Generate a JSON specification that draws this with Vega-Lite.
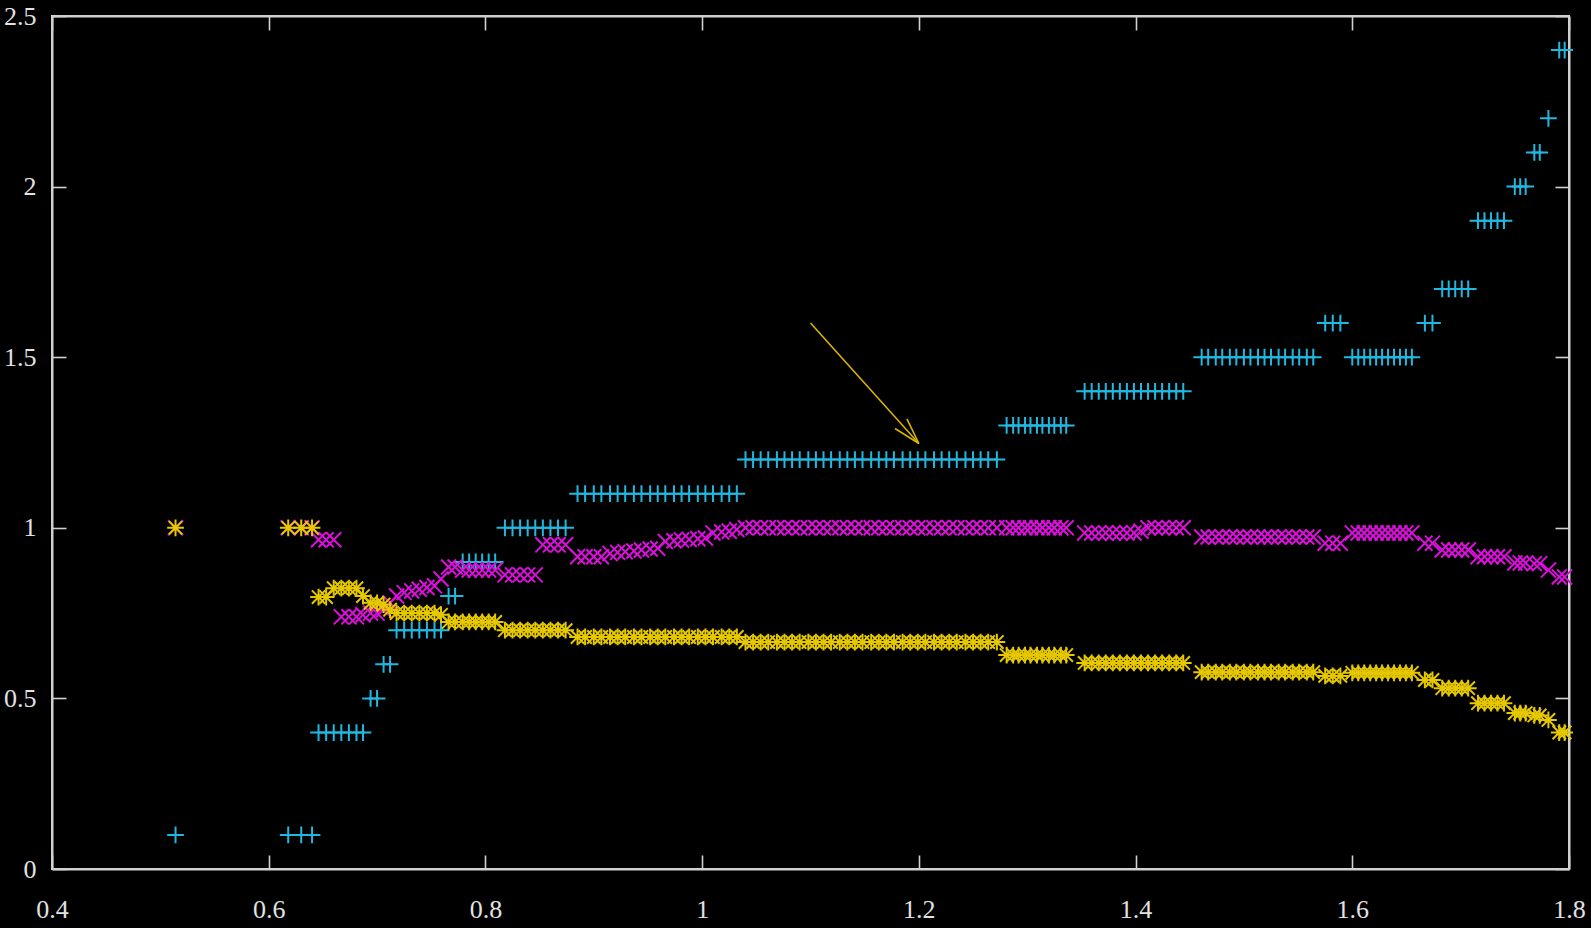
{
  "$schema": "https://vega.github.io/schema/vega-lite/v6.json",
  "width": 1517,
  "height": 853,
  "autosize": {"type": "none"},
  "padding": {"left": 52, "top": 16, "right": 22, "bottom": 59},
  "background": "#000000",
  "config": {
    "view": {"stroke": "#d0d0d0", "strokeWidth": 2},
    "axis": {
      "domainColor": "#d0d0d0",
      "domainWidth": 2,
      "tickColor": "#d0d0d0",
      "tickWidth": 1.6,
      "tickSize": -14,
      "labelFont": "Liberation Serif",
      "labelFontSize": 26,
      "labelColor": "#e2e2e2",
      "labelFlush": false,
      "labelOverlap": false,
      "grid": false
    }
  },
  "datasets": {
    "pts": [
      {"x": 0.514, "c": 0.1, "m": 1.0, "y": 1.0},
      {"x": 0.618, "c": 0.1, "m": 1.0, "y": 1.0},
      {"x": 0.630, "c": 0.1, "m": 1.0, "y": 1.0},
      {"x": 0.640, "c": 0.1, "m": 1.0, "y": 1.0},
      {"x": 0.646, "c": 0.4, "m": 0.965, "y": 0.797},
      {"x": 0.653, "c": 0.4, "m": 0.965, "y": 0.797},
      {"x": 0.660, "c": 0.4, "m": 0.965, "y": 0.823},
      {"x": 0.667, "c": 0.4, "m": 0.739, "y": 0.823},
      {"x": 0.674, "c": 0.4, "m": 0.739, "y": 0.823},
      {"x": 0.681, "c": 0.4, "m": 0.739, "y": 0.823},
      {"x": 0.687, "c": 0.4, "m": 0.745, "y": 0.80},
      {"x": 0.694, "c": 0.5, "m": 0.75, "y": 0.78},
      {"x": 0.700, "c": 0.5, "m": 0.75, "y": 0.78},
      {"x": 0.706, "c": 0.6, "m": 0.76, "y": 0.775},
      {"x": 0.712, "c": 0.6, "m": 0.78, "y": 0.76},
      {"x": 0.718, "c": 0.7, "m": 0.80, "y": 0.75},
      {"x": 0.725, "c": 0.7, "m": 0.81, "y": 0.75},
      {"x": 0.732, "c": 0.7, "m": 0.815, "y": 0.75},
      {"x": 0.739, "c": 0.7, "m": 0.82, "y": 0.75},
      {"x": 0.746, "c": 0.7, "m": 0.825, "y": 0.75},
      {"x": 0.753, "c": 0.7, "m": 0.83, "y": 0.75},
      {"x": 0.759, "c": 0.7, "m": 0.85, "y": 0.745},
      {"x": 0.766, "c": 0.8, "m": 0.885, "y": 0.724},
      {"x": 0.772, "c": 0.8, "m": 0.885, "y": 0.724},
      {"x": 0.779, "c": 0.9, "m": 0.876, "y": 0.724},
      {"x": 0.785, "c": 0.9, "m": 0.876, "y": 0.724},
      {"x": 0.791, "c": 0.9, "m": 0.876, "y": 0.724},
      {"x": 0.797, "c": 0.9, "m": 0.876, "y": 0.724},
      {"x": 0.803, "c": 0.9, "m": 0.876, "y": 0.724},
      {"x": 0.809, "c": 0.9, "m": 0.876, "y": 0.724},
      {"x": 0.818, "c": 1.0, "m": 0.862, "y": 0.70},
      {"x": 0.825, "c": 1.0, "m": 0.862, "y": 0.70},
      {"x": 0.832, "c": 1.0, "m": 0.862, "y": 0.70},
      {"x": 0.839, "c": 1.0, "m": 0.862, "y": 0.70},
      {"x": 0.846, "c": 1.0, "m": 0.862, "y": 0.70},
      {"x": 0.853, "c": 1.0, "m": 0.95, "y": 0.70},
      {"x": 0.860, "c": 1.0, "m": 0.95, "y": 0.70},
      {"x": 0.867, "c": 1.0, "m": 0.95, "y": 0.70},
      {"x": 0.874, "c": 1.0, "m": 0.95, "y": 0.70},
      {"x": 0.885, "c": 1.1, "m": 0.915, "y": 0.68},
      {"x": 0.892, "c": 1.1, "m": 0.915, "y": 0.68},
      {"x": 0.900, "c": 1.1, "m": 0.915, "y": 0.68},
      {"x": 0.907, "c": 1.1, "m": 0.915, "y": 0.68},
      {"x": 0.915, "c": 1.1, "m": 0.925, "y": 0.68},
      {"x": 0.922, "c": 1.1, "m": 0.928, "y": 0.68},
      {"x": 0.929, "c": 1.1, "m": 0.93, "y": 0.68},
      {"x": 0.937, "c": 1.1, "m": 0.932, "y": 0.68},
      {"x": 0.944, "c": 1.1, "m": 0.935, "y": 0.68},
      {"x": 0.952, "c": 1.1, "m": 0.938, "y": 0.68},
      {"x": 0.959, "c": 1.1, "m": 0.94, "y": 0.68},
      {"x": 0.966, "c": 1.1, "m": 0.96, "y": 0.68},
      {"x": 0.974, "c": 1.1, "m": 0.962, "y": 0.68},
      {"x": 0.981, "c": 1.1, "m": 0.964, "y": 0.68},
      {"x": 0.988, "c": 1.1, "m": 0.966, "y": 0.68},
      {"x": 0.996, "c": 1.1, "m": 0.968, "y": 0.68},
      {"x": 1.003, "c": 1.1, "m": 0.97, "y": 0.68},
      {"x": 1.010, "c": 1.1, "m": 0.985, "y": 0.68},
      {"x": 1.018, "c": 1.1, "m": 0.988, "y": 0.68},
      {"x": 1.025, "c": 1.1, "m": 0.99, "y": 0.68},
      {"x": 1.032, "c": 1.1, "m": 0.995, "y": 0.68},
      {"x": 1.040, "c": 1.2, "m": 1.0, "y": 0.665},
      {"x": 1.047, "c": 1.2, "m": 1.0, "y": 0.665},
      {"x": 1.054, "c": 1.2, "m": 1.0, "y": 0.665},
      {"x": 1.061, "c": 1.2, "m": 1.0, "y": 0.665},
      {"x": 1.069, "c": 1.2, "m": 1.0, "y": 0.665},
      {"x": 1.076, "c": 1.2, "m": 1.0, "y": 0.665},
      {"x": 1.083, "c": 1.2, "m": 1.0, "y": 0.665},
      {"x": 1.090, "c": 1.2, "m": 1.0, "y": 0.665},
      {"x": 1.098, "c": 1.2, "m": 1.0, "y": 0.665},
      {"x": 1.105, "c": 1.2, "m": 1.0, "y": 0.665},
      {"x": 1.112, "c": 1.2, "m": 1.0, "y": 0.665},
      {"x": 1.119, "c": 1.2, "m": 1.0, "y": 0.665},
      {"x": 1.127, "c": 1.2, "m": 1.0, "y": 0.665},
      {"x": 1.134, "c": 1.2, "m": 1.0, "y": 0.665},
      {"x": 1.141, "c": 1.2, "m": 1.0, "y": 0.665},
      {"x": 1.148, "c": 1.2, "m": 1.0, "y": 0.665},
      {"x": 1.156, "c": 1.2, "m": 1.0, "y": 0.665},
      {"x": 1.163, "c": 1.2, "m": 1.0, "y": 0.665},
      {"x": 1.170, "c": 1.2, "m": 1.0, "y": 0.665},
      {"x": 1.177, "c": 1.2, "m": 1.0, "y": 0.665},
      {"x": 1.185, "c": 1.2, "m": 1.0, "y": 0.665},
      {"x": 1.192, "c": 1.2, "m": 1.0, "y": 0.665},
      {"x": 1.199, "c": 1.2, "m": 1.0, "y": 0.665},
      {"x": 1.206, "c": 1.2, "m": 1.0, "y": 0.665},
      {"x": 1.214, "c": 1.2, "m": 1.0, "y": 0.665},
      {"x": 1.221, "c": 1.2, "m": 1.0, "y": 0.665},
      {"x": 1.228, "c": 1.2, "m": 1.0, "y": 0.665},
      {"x": 1.235, "c": 1.2, "m": 1.0, "y": 0.665},
      {"x": 1.243, "c": 1.2, "m": 1.0, "y": 0.665},
      {"x": 1.250, "c": 1.2, "m": 1.0, "y": 0.665},
      {"x": 1.257, "c": 1.2, "m": 1.0, "y": 0.665},
      {"x": 1.264, "c": 1.2, "m": 1.0, "y": 0.665},
      {"x": 1.272, "c": 1.2, "m": 1.0, "y": 0.665},
      {"x": 1.281, "c": 1.3, "m": 1.0, "y": 0.627},
      {"x": 1.287, "c": 1.3, "m": 1.0, "y": 0.627},
      {"x": 1.292, "c": 1.3, "m": 1.0, "y": 0.627},
      {"x": 1.298, "c": 1.3, "m": 1.0, "y": 0.627},
      {"x": 1.303, "c": 1.3, "m": 1.0, "y": 0.627},
      {"x": 1.309, "c": 1.3, "m": 1.0, "y": 0.627},
      {"x": 1.314, "c": 1.3, "m": 1.0, "y": 0.627},
      {"x": 1.320, "c": 1.3, "m": 1.0, "y": 0.627},
      {"x": 1.325, "c": 1.3, "m": 1.0, "y": 0.627},
      {"x": 1.331, "c": 1.3, "m": 1.0, "y": 0.627},
      {"x": 1.336, "c": 1.3, "m": 1.0, "y": 0.627},
      {"x": 1.353, "c": 1.4, "m": 0.985, "y": 0.604},
      {"x": 1.3595, "c": 1.4, "m": 0.985, "y": 0.604},
      {"x": 1.366, "c": 1.4, "m": 0.985, "y": 0.604},
      {"x": 1.3725, "c": 1.4, "m": 0.985, "y": 0.604},
      {"x": 1.379, "c": 1.4, "m": 0.985, "y": 0.604},
      {"x": 1.3855, "c": 1.4, "m": 0.985, "y": 0.604},
      {"x": 1.392, "c": 1.4, "m": 0.985, "y": 0.604},
      {"x": 1.3985, "c": 1.4, "m": 0.985, "y": 0.604},
      {"x": 1.405, "c": 1.4, "m": 0.99, "y": 0.604},
      {"x": 1.4115, "c": 1.4, "m": 1.0, "y": 0.604},
      {"x": 1.418, "c": 1.4, "m": 1.0, "y": 0.604},
      {"x": 1.4245, "c": 1.4, "m": 1.0, "y": 0.604},
      {"x": 1.431, "c": 1.4, "m": 1.0, "y": 0.604},
      {"x": 1.4375, "c": 1.4, "m": 1.0, "y": 0.604},
      {"x": 1.444, "c": 1.4, "m": 1.0, "y": 0.604},
      {"x": 1.461, "c": 1.5, "m": 0.973, "y": 0.577},
      {"x": 1.467, "c": 1.5, "m": 0.973, "y": 0.577},
      {"x": 1.474, "c": 1.5, "m": 0.973, "y": 0.577},
      {"x": 1.480, "c": 1.5, "m": 0.973, "y": 0.577},
      {"x": 1.487, "c": 1.5, "m": 0.973, "y": 0.577},
      {"x": 1.493, "c": 1.5, "m": 0.973, "y": 0.577},
      {"x": 1.500, "c": 1.5, "m": 0.973, "y": 0.577},
      {"x": 1.506, "c": 1.5, "m": 0.973, "y": 0.577},
      {"x": 1.513, "c": 1.5, "m": 0.973, "y": 0.577},
      {"x": 1.519, "c": 1.5, "m": 0.973, "y": 0.577},
      {"x": 1.525, "c": 1.5, "m": 0.973, "y": 0.577},
      {"x": 1.532, "c": 1.5, "m": 0.973, "y": 0.577},
      {"x": 1.538, "c": 1.5, "m": 0.973, "y": 0.577},
      {"x": 1.545, "c": 1.5, "m": 0.973, "y": 0.577},
      {"x": 1.551, "c": 1.5, "m": 0.973, "y": 0.577},
      {"x": 1.558, "c": 1.5, "m": 0.973, "y": 0.577},
      {"x": 1.564, "c": 1.5, "m": 0.973, "y": 0.577},
      {"x": 1.575, "c": 1.6, "m": 0.955, "y": 0.566},
      {"x": 1.582, "c": 1.6, "m": 0.955, "y": 0.566},
      {"x": 1.589, "c": 1.6, "m": 0.955, "y": 0.566},
      {"x": 1.600, "c": 1.5, "m": 0.985, "y": 0.575},
      {"x": 1.6055, "c": 1.5, "m": 0.985, "y": 0.575},
      {"x": 1.611, "c": 1.5, "m": 0.985, "y": 0.575},
      {"x": 1.6165, "c": 1.5, "m": 0.985, "y": 0.575},
      {"x": 1.622, "c": 1.5, "m": 0.985, "y": 0.575},
      {"x": 1.6275, "c": 1.5, "m": 0.985, "y": 0.575},
      {"x": 1.633, "c": 1.5, "m": 0.985, "y": 0.575},
      {"x": 1.6385, "c": 1.5, "m": 0.985, "y": 0.575},
      {"x": 1.644, "c": 1.5, "m": 0.985, "y": 0.575},
      {"x": 1.6495, "c": 1.5, "m": 0.985, "y": 0.575},
      {"x": 1.655, "c": 1.5, "m": 0.985, "y": 0.575},
      {"x": 1.667, "c": 1.6, "m": 0.955, "y": 0.554},
      {"x": 1.674, "c": 1.6, "m": 0.955, "y": 0.554},
      {"x": 1.683, "c": 1.7, "m": 0.935, "y": 0.53},
      {"x": 1.689, "c": 1.7, "m": 0.935, "y": 0.53},
      {"x": 1.695, "c": 1.7, "m": 0.935, "y": 0.53},
      {"x": 1.701, "c": 1.7, "m": 0.935, "y": 0.53},
      {"x": 1.707, "c": 1.7, "m": 0.935, "y": 0.53},
      {"x": 1.716, "c": 1.9, "m": 0.915, "y": 0.486},
      {"x": 1.722, "c": 1.9, "m": 0.915, "y": 0.486},
      {"x": 1.728, "c": 1.9, "m": 0.915, "y": 0.486},
      {"x": 1.734, "c": 1.9, "m": 0.915, "y": 0.486},
      {"x": 1.740, "c": 1.9, "m": 0.915, "y": 0.486},
      {"x": 1.750, "c": 2.0, "m": 0.897, "y": 0.457},
      {"x": 1.755, "c": 2.0, "m": 0.897, "y": 0.457},
      {"x": 1.760, "c": 2.0, "m": 0.897, "y": 0.457},
      {"x": 1.768, "c": 2.1, "m": 0.895, "y": 0.45},
      {"x": 1.773, "c": 2.1, "m": 0.895, "y": 0.45},
      {"x": 1.781, "c": 2.2, "m": 0.876, "y": 0.437},
      {"x": 1.791, "c": 2.4, "m": 0.856, "y": 0.40},
      {"x": 1.796, "c": 2.4, "m": 0.856, "y": 0.40}
    ],
    "arrow": [
      {"x": 1.1, "y": 1.6, "x2": 1.2, "y2": 1.247},
      {"x": 1.189, "y": 1.319, "x2": 1.2, "y2": 1.247},
      {"x": 1.178, "y": 1.291, "x2": 1.2, "y2": 1.247}
    ]
  },
  "layer": [
    {
      "data": {"name": "pts"},
      "transform": [{"fold": ["c", "m", "y"], "as": ["series", "value"]}],
      "mark": {"type": "point", "filled": false, "strokeWidth": 2, "size": 280, "opacity": 1},
      "encoding": {
        "x": {
          "field": "x", "type": "quantitative",
          "scale": {"domain": [0.4, 1.8], "nice": false, "zero": false},
          "axis": {"orient": "bottom", "title": null, "values": [0.4, 0.6, 0.8, 1.0, 1.2, 1.4, 1.6, 1.8], "format": "~g", "labelPadding": 41, "labelFont": "Liberation Serif"}
        },
        "y": {
          "field": "value", "type": "quantitative",
          "scale": {"domain": [0, 2.5], "nice": false, "zero": false},
          "axis": {"orient": "left", "title": null, "values": [0, 0.5, 1.0, 1.5, 2.0, 2.5], "format": "~g", "labelPadding": 30, "labelFont": "Liberation Serif"}
        },
        "color": {
          "field": "series", "type": "nominal",
          "scale": {"domain": ["c", "m", "y"], "range": ["#20b8e0", "#dc10dc", "#e6c800"]},
          "legend": null
        },
        "shape": {
          "field": "series", "type": "nominal",
          "scale": {"domain": ["c", "m", "y"], "range": ["M-1,0H1M0,-1V1", "M-0.9,-0.9L0.9,0.9M-0.9,0.9L0.9,-0.9", "M-1,0H1M0,-1V1M-0.8,-0.8L0.8,0.8M-0.8,0.8L0.8,-0.8"]},
          "legend": null
        },
        "order": {"field": "series", "type": "nominal"}
      }
    },
    {
      "data": {"name": "arrow"},
      "mark": {"type": "rule", "color": "#d8b400", "strokeWidth": 1.6},
      "encoding": {
        "x": {
          "field": "x", "type": "quantitative",
          "scale": {"domain": [0.4, 1.8], "nice": false, "zero": false},
          "axis": {"orient": "top", "title": null, "labels": false, "values": [0.4, 0.6, 0.8, 1.0, 1.2, 1.4, 1.6, 1.8]}
        },
        "y": {
          "field": "y", "type": "quantitative",
          "scale": {"domain": [0, 2.5], "nice": false, "zero": false},
          "axis": {"orient": "right", "title": null, "labels": false, "values": [0, 0.5, 1.0, 1.5, 2.0, 2.5]}
        },
        "x2": {"field": "x2"},
        "y2": {"field": "y2"}
      }
    }
  ],
  "resolve": {"axis": {"x": "independent", "y": "independent"}}
}
